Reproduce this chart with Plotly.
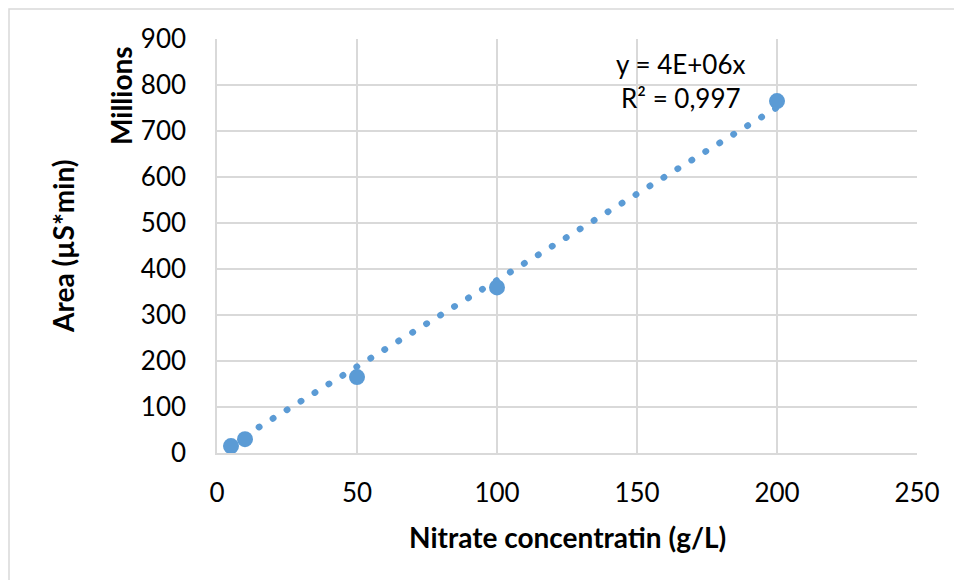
import numpy as np
import plotly.graph_objects as go

# Data
conc = [5, 10, 50, 100, 200]                 # g/L
area_millions = [15, 30, 165, 360, 765]      # µS*min (millions)
x_ticks = [0, 50, 100, 150, 200, 250]
y_ticks = [0, 100, 200, 300, 400, 500, 600, 700, 800, 900]
eq_text = "y = 4E+06x"
r2_text = "R² = 0,997"

# Linear trendline through origin (least squares)
xa = np.array(conc, float)
ya = np.array(area_millions, float)
slope = (xa * ya).sum() / (xa * xa).sum()
tx = np.array([min(conc), max(conc)], float)
ty = slope * tx

BLUE = "#5B9BD5"
GRID = "#D9D9D9"
FONT = "Lato"
TS = 26
BS = 28

L, T, W, H = 217, 39, 700, 414


def px(x):
    return (x - L) / W


def py(y):
    return (T + H - y) / H


fig = go.Figure()
fig.add_trace(go.Scatter(
    x=tx, y=ty, mode="lines",
    line=dict(color=BLUE, width=6.5, dash="0.5px,15.9px"),
    hoverinfo="skip", showlegend=False,
))
fig.add_trace(go.Scatter(
    x=conc, y=area_millions, mode="markers",
    marker=dict(color=BLUE, size=16),
    showlegend=False,
))

fig.update_layout(
    width=954, height=580,
    margin=dict(l=L, r=954 - L - W, t=T, b=580 - T - H),
    paper_bgcolor="white", plot_bgcolor="white",
    font=dict(family=FONT, color="#000000", size=TS),
    xaxis=dict(
        range=[0, 250], tickvals=x_ticks, ticktext=[str(v) for v in x_ticks],
        showgrid=True, gridcolor=GRID, gridwidth=1.5,
        showline=True, linecolor=GRID, linewidth=1.5, mirror=False,
        zeroline=False, ticks="outside", ticklen=16, tickcolor="rgba(0,0,0,0)",
        tickfont=dict(family=FONT, size=TS),
    ),
    yaxis=dict(
        range=[0, 900], tickvals=y_ticks, ticktext=[str(v) for v in y_ticks],
        showgrid=True, gridcolor=GRID, gridwidth=1.5,
        showline=True, linecolor=GRID, linewidth=1.5,
        zeroline=False, ticks="outside", ticklen=24, tickcolor="rgba(0,0,0,0)",
        tickfont=dict(family=FONT, size=TS),
    ),
    annotations=[
        dict(text="<b>Millions</b>", textangle=-90, xref="paper", yref="paper",
             x=px(121), y=py(96), xanchor="center", yanchor="middle",
             showarrow=False, font=dict(family=FONT, size=BS)),
        dict(text="<b>Area (µS*min)</b>", textangle=-90, xref="paper", yref="paper",
             x=px(63), y=py(247), xanchor="center", yanchor="middle",
             showarrow=False, font=dict(family=FONT, size=BS)),
        dict(text="<b>Nitrate concentratin (g/L)</b>", xref="paper", yref="paper",
             x=px(567), y=py(537), xanchor="center", yanchor="middle",
             showarrow=False, font=dict(family=FONT, size=BS)),
        dict(text=eq_text, xref="paper", yref="paper",
             x=px(680), y=py(64), xanchor="center", yanchor="middle",
             showarrow=False, font=dict(family=FONT, size=26)),
        dict(text=r2_text, xref="paper", yref="paper",
             x=px(681), y=py(98), xanchor="center", yanchor="middle",
             showarrow=False, font=dict(family=FONT, size=26)),
    ],
    shapes=[
        dict(type="rect", xref="paper", yref="paper",
             x0=px(9), x1=px(990), y0=py(620), y1=py(9),
             line=dict(color=GRID, width=1.5), layer="below"),
    ],
)

post = """
document.querySelectorAll('.scatterlayer .trace path.js-line').forEach(function(p){
  p.style.strokeLinecap='round';
});
"""
fig.write_html("out.html", post_script=post)
